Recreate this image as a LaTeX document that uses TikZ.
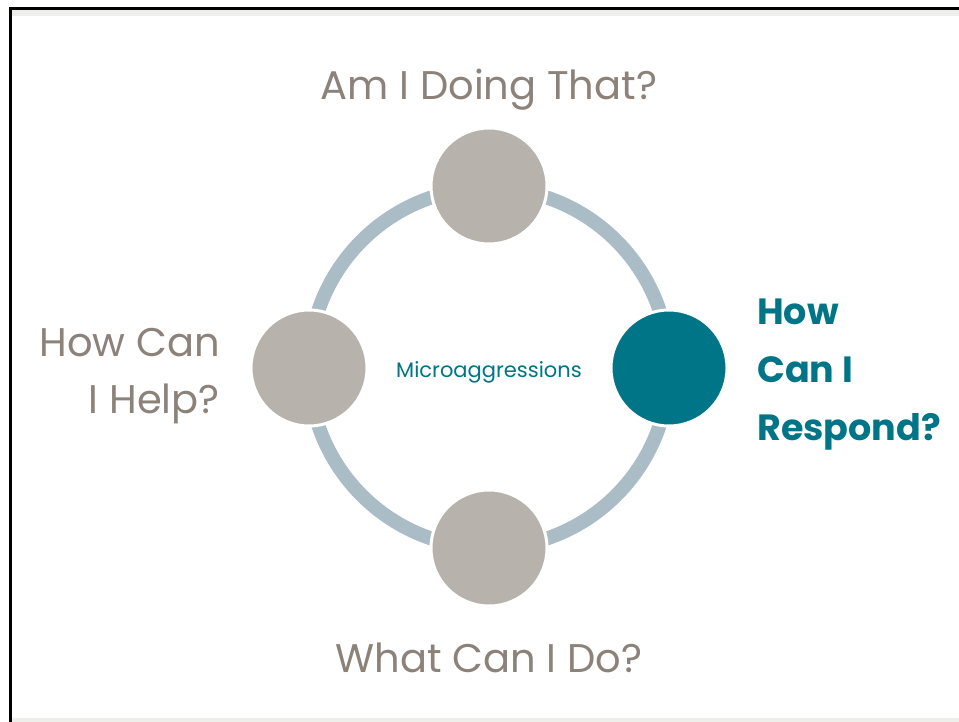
\documentclass[tikz,border=0pt]{standalone}
\usepackage{fontspec}
\setmainfont{Poppins}
\usetikzlibrary{positioning}
\definecolor{StepGray}{RGB}{184,178,172}
\definecolor{RingBlue}{RGB}{170,189,198}
\definecolor{DeepTeal}{RGB}{0,117,135}
\definecolor{LabelGray}{RGB}{140,130,122}
\definecolor{StripGray}{RGB}{238,238,234}
\tikzset{
	stepdot/.style={circle, minimum size=116pt, inner sep=0pt, fill=StepGray, draw=white, line width=3pt},
	askdot/.style={stepdot, fill=DeepTeal},
	asklabel/.style={font=\fontsize{40}{57}\selectfont, text=LabelGray, inner sep=0pt},
	answerlabel/.style={font=\fontsize{36.5}{58}\selectfont\bfseries, text=DeepTeal, inner sep=0pt}
}
\begin{document}
\begin{tikzpicture}[x=1pt, y=-1pt]
	\useasboundingbox (0,0) rectangle (959,722);
	\fill[white] (0,0) rectangle (959,722);
%
	%frame
	\fill[StripGray] (11,10) rectangle (959,16);
	\fill[StripGray] (11,718) rectangle (959,722);
	\fill[black] (9,7) rectangle (959,10);
	\fill[black] (9,7) rectangle (12,722);
%
	\coordinate (hub) at (489,368);
	\draw[RingBlue, line width=14pt] (hub) circle (180pt);
%
	\node[stepdot] (top) at (489,186) {};
	\node[stepdot] (left) at (309,368) {};
	\node[askdot] (right) at (669,368) {};
	\node[stepdot] (bottom) at (489,548) {};
%
	\node[text=DeepTeal, font=\fontsize{21}{24}\selectfont] (hubtext) at (489,372) {Microaggressions};
%
	\node[asklabel, anchor=base] (toptext) at (489,100) {Am I Doing That?};
	\node[asklabel, anchor=base] (bottomtext) at (489,672) {What Can I Do?};
	\node[asklabel, align=right, anchor=east] (lefttext) at (220,376) {How Can\\I Help?};
	\node[answerlabel, align=left, anchor=west] (righttext) at (757,375) {How\\Can I\\Respond?};
\end{tikzpicture}
\end{document}
